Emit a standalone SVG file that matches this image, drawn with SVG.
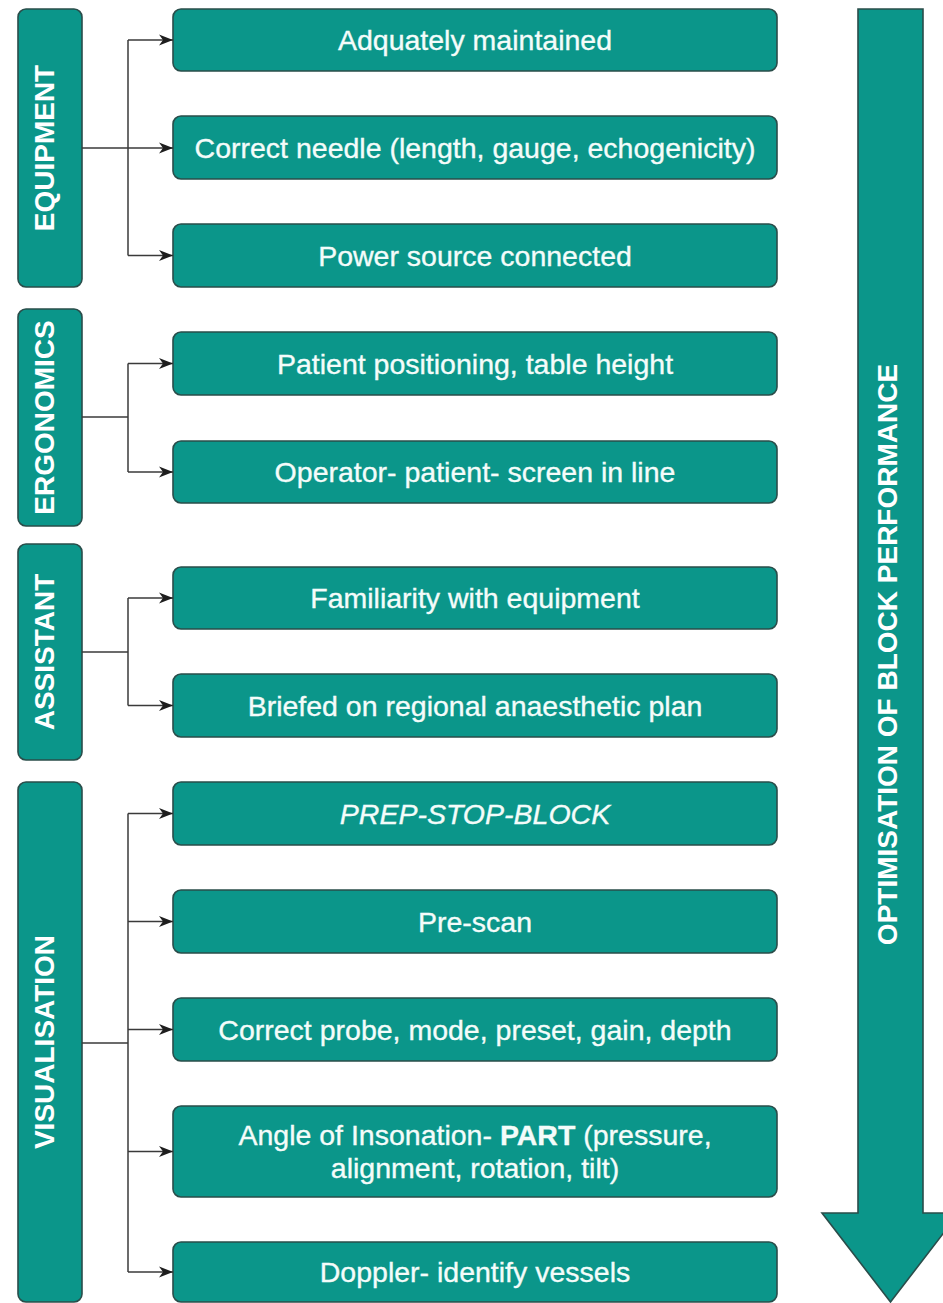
<svg xmlns="http://www.w3.org/2000/svg" width="943" height="1303" viewBox="0 0 943 1303">
  <style>
    .box { fill: #0b968a; stroke: #2a4d4a; stroke-width: 1.6; }
    .cat { font-family: "Liberation Sans", Arial, sans-serif; font-size: 28px; font-weight: bold; fill: #ffffff; text-anchor: middle; }
    .item { font-family: "Liberation Sans", Arial, sans-serif; font-size: 28.5px; fill: #f4fcfa; stroke: #f4fcfa; stroke-width: 0.35; text-anchor: middle; }
    .link { fill: none; stroke: #3a3a3a; stroke-width: 1.5; }
  </style>
  <defs>
    <marker id="arrowhead" markerUnits="userSpaceOnUse" markerWidth="15" markerHeight="12" refX="14" refY="6" orient="auto">
      <path d="M0,0.5 L14,6 L0,11.5 L4,6 Z" fill="#1e1e1e"/>
    </marker>
  </defs>
  <rect width="943" height="1303" fill="#ffffff"/>

  <!-- category columns -->
  <g id="equipment">
    <rect class="box" x="18" y="9" width="64" height="278" rx="8"/>
    <text class="cat" transform="translate(54,148) rotate(-90)">EQUIPMENT</text>
  </g>
  <g id="ergonomics">
    <rect class="box" x="18" y="309" width="64" height="217" rx="8"/>
    <text class="cat" transform="translate(54,417.5) rotate(-90)">ERGONOMICS</text>
  </g>
  <g id="assistant">
    <rect class="box" x="18" y="544" width="64" height="216" rx="8"/>
    <text class="cat" transform="translate(54,652) rotate(-90)">ASSISTANT</text>
  </g>
  <g id="visualisation">
    <rect class="box" x="18" y="782" width="64" height="520" rx="8"/>
    <text class="cat" transform="translate(54,1042) rotate(-90)">VISUALISATION</text>
  </g>

  <!-- item boxes -->
  <g id="maintained">
    <rect class="box" x="173" y="9" width="604" height="62" rx="8"/>
    <text class="item" x="475" y="50">Adquately maintained</text>
  </g>
  <g id="needle">
    <rect class="box" x="173" y="116" width="604" height="63" rx="8"/>
    <text class="item" x="475" y="157.5">Correct needle (length, gauge, echogenicity)</text>
  </g>
  <g id="power">
    <rect class="box" x="173" y="224" width="604" height="63" rx="8"/>
    <text class="item" x="475" y="265.5">Power source connected</text>
  </g>
  <g id="positioning">
    <rect class="box" x="173" y="332" width="604" height="63" rx="8"/>
    <text class="item" x="475" y="373.5">Patient positioning, table height</text>
  </g>
  <g id="inline">
    <rect class="box" x="173" y="441" width="604" height="62" rx="8"/>
    <text class="item" x="475" y="482">Operator- patient- screen in line</text>
  </g>
  <g id="familiarity">
    <rect class="box" x="173" y="567" width="604" height="62" rx="8"/>
    <text class="item" x="475" y="608">Familiarity with equipment</text>
  </g>
  <g id="briefed">
    <rect class="box" x="173" y="674" width="604" height="63" rx="8"/>
    <text class="item" x="475" y="715.5">Briefed on regional anaesthetic plan</text>
  </g>
  <g id="prep-stop-block">
    <rect class="box" x="173" y="782" width="604" height="63" rx="8"/>
    <text class="item" x="475" y="823.5" font-style="italic">PREP-STOP-BLOCK</text>
  </g>
  <g id="pre-scan">
    <rect class="box" x="173" y="890" width="604" height="63" rx="8"/>
    <text class="item" x="475" y="931.5">Pre-scan</text>
  </g>
  <g id="probe">
    <rect class="box" x="173" y="998" width="604" height="63" rx="8"/>
    <text class="item" x="475" y="1039.5">Correct probe, mode, preset, gain, depth</text>
  </g>
  <g id="insonation">
    <rect class="box" x="173" y="1106" width="604" height="91" rx="8"/>
    <text class="item" x="475" y="1145">Angle of Insonation- <tspan font-weight="bold">PART</tspan> (pressure,</text>
    <text class="item" x="475" y="1178">alignment, rotation, tilt)</text>
  </g>
  <g id="doppler">
    <rect class="box" x="173" y="1242" width="604" height="60" rx="8"/>
    <text class="item" x="475" y="1282">Doppler- identify vessels</text>
  </g>

  <!-- overall direction arrow -->
  <g id="optimisation">
    <path class="box" d="M858,9 L923,9 L923,1213 L959,1213 L890.5,1302 L822,1213 L858,1213 Z"/>
    <text class="cat" transform="translate(897,654.5) rotate(-90)">OPTIMISATION OF BLOCK PERFORMANCE</text>
  </g>

  <!-- connectors -->
  <g id="connectors">
    <path class="link" d="M82,148 L128,148"/>
    <path class="link" d="M128,40 L128,255.5"/>
    <path class="link" marker-end="url(#arrowhead)" d="M128,40 L173,40"/>
    <path class="link" marker-end="url(#arrowhead)" d="M128,148 L173,148"/>
    <path class="link" marker-end="url(#arrowhead)" d="M128,255.5 L173,255.5"/>

    <path class="link" d="M82,417 L128,417"/>
    <path class="link" d="M128,363.5 L128,472"/>
    <path class="link" marker-end="url(#arrowhead)" d="M128,363.5 L173,363.5"/>
    <path class="link" marker-end="url(#arrowhead)" d="M128,472 L173,472"/>

    <path class="link" d="M82,652 L128,652"/>
    <path class="link" d="M128,598 L128,705.5"/>
    <path class="link" marker-end="url(#arrowhead)" d="M128,598 L173,598"/>
    <path class="link" marker-end="url(#arrowhead)" d="M128,705.5 L173,705.5"/>

    <path class="link" d="M82,1043 L128,1043"/>
    <path class="link" d="M128,813.5 L128,1272"/>
    <path class="link" marker-end="url(#arrowhead)" d="M128,813.5 L173,813.5"/>
    <path class="link" marker-end="url(#arrowhead)" d="M128,921.5 L173,921.5"/>
    <path class="link" marker-end="url(#arrowhead)" d="M128,1029.5 L173,1029.5"/>
    <path class="link" marker-end="url(#arrowhead)" d="M128,1151.5 L173,1151.5"/>
    <path class="link" marker-end="url(#arrowhead)" d="M128,1272 L173,1272"/>
  </g>
</svg>
